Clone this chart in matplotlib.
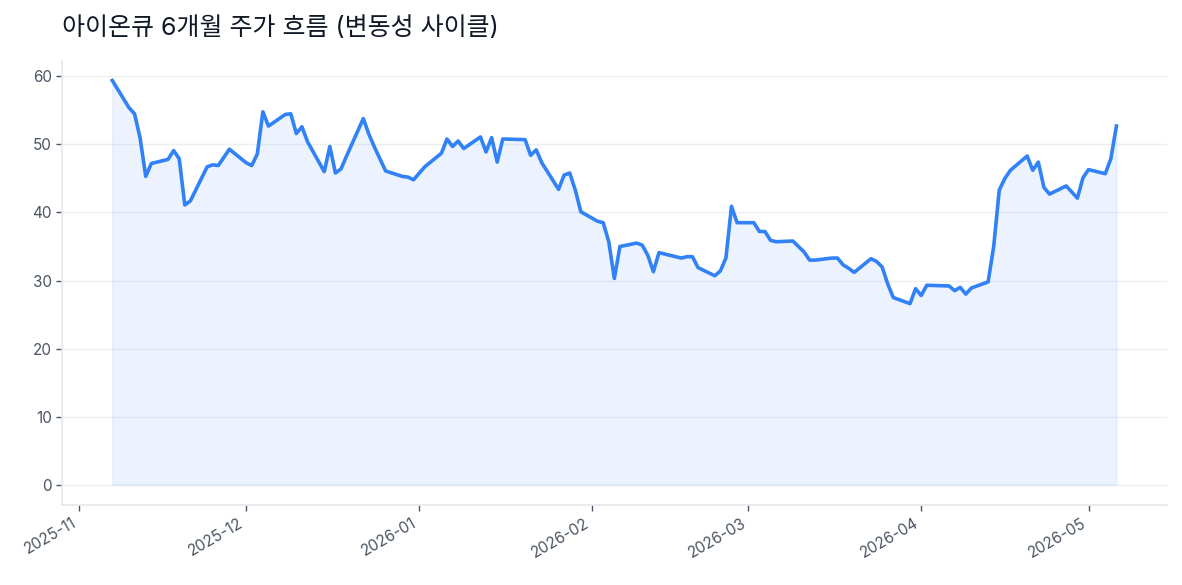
import pandas as pd
import matplotlib
matplotlib.use("Agg")
import matplotlib.pyplot as plt
import matplotlib.dates as mdates

plt.rcParams['font.family'] = ['Inter', 'Noto Sans CJK KR', 'DejaVu Sans']

# IonQ closing prices, trading days Nov 2025 - May 2026
dates = [
    "2025-11-07", "2025-11-10", "2025-11-11", "2025-11-12", "2025-11-13", "2025-11-14",
    "2025-11-17", "2025-11-18", "2025-11-19", "2025-11-20", "2025-11-21",
    "2025-11-24", "2025-11-25", "2025-11-26", "2025-11-28",
    "2025-12-01", "2025-12-02", "2025-12-03", "2025-12-04", "2025-12-05",
    "2025-12-08", "2025-12-09", "2025-12-10", "2025-12-11", "2025-12-12",
    "2025-12-15", "2025-12-16", "2025-12-17", "2025-12-18", "2025-12-19",
    "2025-12-22", "2025-12-23", "2025-12-24", "2025-12-26",
    "2025-12-29", "2025-12-30", "2025-12-31", "2026-01-02",
    "2026-01-05", "2026-01-06", "2026-01-07", "2026-01-08", "2026-01-09",
    "2026-01-12", "2026-01-13", "2026-01-14", "2026-01-15", "2026-01-16",
    "2026-01-20", "2026-01-21", "2026-01-22", "2026-01-23",
    "2026-01-26", "2026-01-27", "2026-01-28", "2026-01-29", "2026-01-30",
    "2026-02-02", "2026-02-03", "2026-02-04", "2026-02-05", "2026-02-06",
    "2026-02-09", "2026-02-10", "2026-02-11", "2026-02-12", "2026-02-13",
    "2026-02-17", "2026-02-18", "2026-02-19", "2026-02-20",
    "2026-02-23", "2026-02-24", "2026-02-25", "2026-02-26", "2026-02-27",
    "2026-03-02", "2026-03-03", "2026-03-04", "2026-03-05", "2026-03-06",
    "2026-03-09", "2026-03-10", "2026-03-11", "2026-03-12", "2026-03-13",
    "2026-03-16", "2026-03-17", "2026-03-18", "2026-03-19", "2026-03-20",
    "2026-03-23", "2026-03-24", "2026-03-25", "2026-03-26", "2026-03-27",
    "2026-03-30", "2026-03-31", "2026-04-01", "2026-04-02",
    "2026-04-06", "2026-04-07", "2026-04-08", "2026-04-09", "2026-04-10",
    "2026-04-13", "2026-04-14", "2026-04-15", "2026-04-16", "2026-04-17",
    "2026-04-20", "2026-04-21", "2026-04-22", "2026-04-23", "2026-04-24",
    "2026-04-27", "2026-04-28", "2026-04-29", "2026-04-30", "2026-05-01",
    "2026-05-04", "2026-05-05", "2026-05-06",
]
prices = [
    59.4, 55.4, 54.5, 50.9, 45.3, 47.2,
    47.8, 49.1, 47.9, 41.1, 41.7,
    46.7, 47.0, 46.9, 49.3,
    47.3, 46.9, 48.6, 54.8, 52.7,
    54.4, 54.5, 51.6, 52.6, 50.4,
    46.0, 49.7, 45.8, 46.4, 48.3,
    53.8, 51.5, 49.6, 46.1,
    45.3, 45.2, 44.8, 46.7,
    48.7, 50.8, 49.7, 50.5, 49.4,
    51.1, 48.9, 51.0, 47.4, 50.8,
    50.7, 48.4, 49.2, 47.3,
    43.4, 45.5, 45.8, 43.3, 40.1,
    38.7, 38.5, 35.7, 30.3, 35.0,
    35.5, 35.2, 33.7, 31.3, 34.1,
    33.3, 33.5, 33.5, 31.9,
    30.7, 31.4, 33.3, 40.9, 38.5,
    38.5, 37.2, 37.2, 35.9, 35.7,
    35.8, 35.0, 34.2, 33.0, 33.0,
    33.3, 33.3, 32.3, 31.8, 31.2,
    33.2, 32.8, 32.0, 29.5, 27.5,
    26.6, 28.8, 27.8, 29.3,
    29.2, 28.5, 29.0, 28.0, 28.9,
    29.8, 35.0, 43.3, 45.0, 46.2,
    48.3, 46.2, 47.4, 43.7, 42.7,
    43.9, 43.0, 42.1, 45.1, 46.3,
    45.7, 47.9, 52.7,
]

title = "아이온큐 6개월 주가 흐름 (변동성 사이클)"
line_color = "#3182f6"

x = pd.to_datetime(dates)

fig = plt.figure(figsize=(11.82, 5.85), dpi=100)
ax = fig.add_axes([0.0525, 0.137, 0.9345, 0.76])

ax.plot(x, prices, color=line_color, linewidth=2.6, zorder=3)
ax.fill_between(x, prices, 0, color=line_color, alpha=0.09, zorder=2)

ax.grid(axis="y", color="#e5e7eb", linewidth=1, alpha=0.7, zorder=0)
ax.set_axisbelow(True)
for side in ["top", "right"]:
    ax.spines[side].set_visible(False)
for side in ["left", "bottom"]:
    ax.spines[side].set_color("#e5e7eb")
    ax.spines[side].set_linewidth(1.2)

ax.set_yticks([0, 10, 20, 30, 40, 50, 60])
ax.xaxis.set_major_locator(mdates.MonthLocator())
ax.xaxis.set_major_formatter(mdates.DateFormatter("%Y-%m"))
ax.tick_params(axis="both", colors="#4b5563", labelsize=11, length=4, width=1)
for lbl in ax.get_xticklabels():
    lbl.set_rotation(30)
    lbl.set_ha("right")

ax.set_title(title, loc="left", fontsize=18, color="#111827", pad=18, x=0.0)

fig.savefig("out.png", dpi=100)
